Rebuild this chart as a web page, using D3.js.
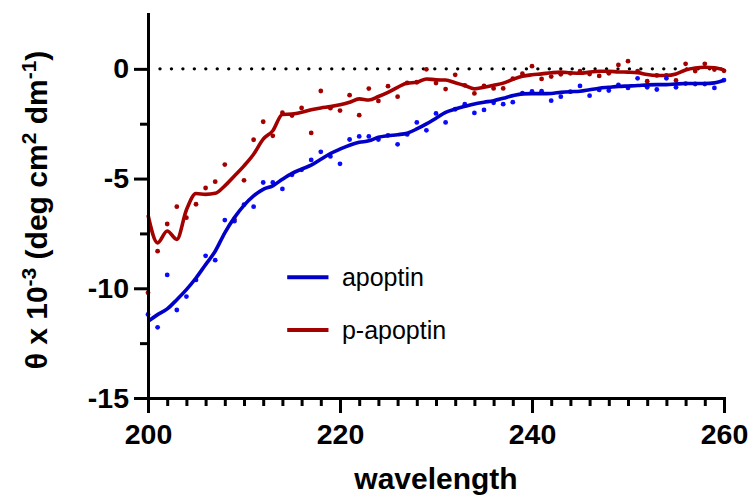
<!DOCTYPE html>
<html>
<head>
<meta charset="utf-8">
<script src="https://cdn.jsdelivr.net/npm/d3@7"></script>
<style>
  html, body { margin: 0; padding: 0; background: #fff; }
  svg { display: block; }
  .tick-lbl text { font-family: "Liberation Sans", Arial, sans-serif; font-weight: bold; font-size: 28.5px; fill: #000; }
</style>
</head>
<body>
<svg id="chart" width="751" height="498"></svg>
<script>
'use strict';

/* ── Data ────────────────────────────────────────────────── */
const WAVELENGTH = [
  200, 201, 202, 203, 204, 205, 206, 207, 208, 209,
  210, 211, 212, 213, 214, 215, 216, 217, 218, 219,
  220, 221, 222, 223, 224, 225, 226, 227, 228, 229,
  230, 231, 232, 233, 234, 235, 236, 237, 238, 239,
  240, 241, 242, 243, 244, 245, 246, 247, 248, 249,
  250, 251, 252, 253, 254, 255, 256, 257, 258, 259, 260
];

// apoptin: measured points and smoothed curve
const APOPTIN_PTS = [
  -11.19, -11.78, -9.39, -10.99, -10.38, -9.62, -8.52, -8.72, -6.89, -6.94,
  -6.19, -6.28, -5.18, -5.18, -5.47, -4.83, -4.60, -4.15, -3.78, -3.99,
  -4.33, -3.22, -3.08, -3.08, -3.22, -3.03, -3.44, -2.99, -2.44, -2.80,
  -2.03, -2.44, -1.84, -1.61, -2.01, -1.87, -1.55, -1.61, -1.52, -1.11,
  -1.03, -1.02, -1.45, -1.27, -1.04, -0.78, -1.22, -0.96, -0.99, -0.73,
  -0.87, -0.43, -0.84, -0.94, -0.43, -0.84, -0.67, -0.69, -0.69, -0.87, -0.51
];
const APOPTIN_FIT = [
  -11.51, -11.20, -10.94, -10.52, -10.06, -9.53, -8.92, -8.31, -7.47, -6.78,
  -6.22, -5.79, -5.49, -5.33, -5.03, -4.76, -4.57, -4.39, -4.12, -3.86,
  -3.66, -3.48, -3.35, -3.28, -3.12, -3.05, -3.00, -2.93, -2.74, -2.51,
  -2.25, -1.98, -1.83, -1.71, -1.60, -1.52, -1.45, -1.34, -1.22, -1.14,
  -1.13, -1.13, -1.12, -1.07, -1.04, -1.02, -0.95, -0.88, -0.84, -0.80,
  -0.78, -0.76, -0.73, -0.72, -0.72, -0.69, -0.67, -0.67, -0.67, -0.64, -0.52
];

// p-apoptin: measured points and smoothed curve
const PAPOPTIN_PTS = [
  -10.20, -8.31, -7.07, -6.28, -6.78, -6.17, -5.43, -5.14, -4.36, -6.86,
  -5.08, -3.23, -2.41, -3.05, -2.00, -2.13, -1.78, -2.92, -1.01, -1.79,
  -1.90, -1.20, -2.11, -0.90, -1.46, -0.79, -1.27, -0.64, -0.61, -0.02,
  -0.65, -0.92, -0.27, -0.75, -1.12, -0.78, -0.89, -0.89, -0.45, -0.22,
   0.12, -0.46, -0.35, -0.25, -0.20, -0.11, -0.24, -0.32, -0.20, 0.18,
   0.35, -0.10, -0.56, -0.30, -0.30, -0.53, 0.23, -0.10, 0.23, -0.03, -0.09
];
const PAPOPTIN_FIT = [
  -6.66, -7.93, -7.39, -7.77, -6.43, -5.68, -5.72, -5.67, -5.33, -4.88,
  -4.42, -3.89, -3.20, -2.82, -2.08, -2.06, -1.98, -1.86, -1.78, -1.72,
  -1.64, -1.52, -1.37, -1.42, -1.26, -1.07, -0.84, -0.65, -0.61, -0.46,
  -0.50, -0.51, -0.63, -0.76, -0.91, -0.84, -0.75, -0.65, -0.48, -0.34,
  -0.27, -0.23, -0.18, -0.15, -0.18, -0.20, -0.15, -0.11, -0.11, -0.14,
  -0.15, -0.17, -0.26, -0.30, -0.30, -0.23, -0.05, 0.04, 0.07, 0.05, -0.05
];

const SERIES_NAMES = ['apoptin', 'p-apoptin'];

const X_TICKS  = [200, 220, 240, 260];
const X_MINOR  = [202, 204, 206, 208, 210, 212, 214, 216, 218,
                  222, 224, 226, 228, 230, 232, 234, 236, 238,
                  242, 244, 246, 248, 250, 252, 254, 256, 258];
const Y_TICKS  = [-15, -10, -5, 0];
const Y_MINOR  = [-12.5, -7.5, -2.5];

/* ── Setup ───────────────────────────────────────────────── */
const FONT = '"Liberation Sans", Arial, Helvetica, sans-serif';
const svg  = d3.select('#chart');

const x = d3.scaleLinear().domain([200, 260]).range([148, 724]);
const y = d3.scaleLinear().domain([-15, 2.5]).range([398, 14]);

const series = [
  { name: SERIES_NAMES[1], pts: PAPOPTIN_PTS, fit: PAPOPTIN_FIT, line: '#a30000', dot: '#a30000' },
  { name: SERIES_NAMES[0], pts: APOPTIN_PTS,  fit: APOPTIN_FIT,  line: '#0000c8', dot: '#0a0aff' }
];

/* ── Zero reference (dotted) ─────────────────────────────── */
svg.append('line')
  .attr('x1', x(200) + 12).attr('x2', x(260))
  .attr('y1', y(0)).attr('y2', y(0))
  .attr('stroke', '#000').attr('stroke-width', 3.4)
  .attr('stroke-linecap', 'round')
  .attr('stroke-dasharray', '0 11.45');

/* ── Series: dots + smoothed curve ───────────────────────── */
const lineGen = d3.line()
  .x((d, i) => x(WAVELENGTH[i]))
  .y(d => y(d))
  .curve(d3.curveMonotoneX);

series.forEach(s => {
  svg.append('g').selectAll('circle')
    .data(s.pts).join('circle')
    .attr('cx', (d, i) => x(WAVELENGTH[i]))
    .attr('cy', d => y(d))
    .attr('r', 2.4)
    .attr('fill', s.dot);

  svg.append('path')
    .datum(s.fit)
    .attr('d', lineGen)
    .attr('fill', 'none')
    .attr('stroke', s.line)
    .attr('stroke-width', 3.6)
    .attr('stroke-linejoin', 'round');
});

/* ── Axes ────────────────────────────────────────────────── */
function styleAxis(g) {
  g.select('.domain').attr('stroke-width', 3).attr('stroke', '#000').attr('stroke-linecap', 'square');
  g.selectAll('.tick line').attr('stroke-width', 3).attr('stroke', '#000');
  g.selectAll('.tick text').attr('font-family', null).attr('font-size', null);
}
const plainFmt = d => String(d);   // hyphen minus, as in the reference

const yAxisG = svg.append('g').attr('class', 'tick-lbl')
  .attr('transform', `translate(${x(200)},0)`)
  .call(d3.axisLeft(y).tickValues(Y_TICKS).tickFormat(plainFmt)
    .tickSize(14).tickPadding(5).tickSizeOuter(0));
styleAxis(yAxisG);

const yMinorG = svg.append('g')
  .attr('transform', `translate(${x(200)},0)`)
  .call(d3.axisLeft(y).tickValues(Y_MINOR).tickSize(8).tickFormat(''));
yMinorG.select('.domain').remove();
yMinorG.selectAll('.tick line').attr('stroke-width', 3).attr('stroke', '#000');

const xAxisG = svg.append('g').attr('class', 'tick-lbl')
  .attr('transform', `translate(0,${y(-15)})`)
  .call(d3.axisBottom(x).tickValues(X_TICKS).tickFormat(plainFmt)
    .tickSize(15).tickPadding(11).tickSizeOuter(0));
styleAxis(xAxisG);

const xMinorG = svg.append('g')
  .attr('transform', `translate(0,${y(-15)})`)
  .call(d3.axisBottom(x).tickValues(X_MINOR).tickSize(8).tickFormat(''));
xMinorG.select('.domain').remove();
xMinorG.selectAll('.tick line').attr('stroke-width', 3).attr('stroke', '#000');

/* ── Axis titles ─────────────────────────────────────────── */
svg.append('text')
  .attr('x', (x(200) + x(260)) / 2).attr('y', 489)
  .attr('text-anchor', 'middle')
  .attr('font-family', FONT).attr('font-weight', 'bold').attr('font-size', 30)
  .text('wavelength');

const yTitle = svg.append('text')
  .attr('transform', `translate(47,${(y(-15) + y(2.5)) / 2 + 4}) rotate(-90)`)
  .attr('text-anchor', 'middle')
  .attr('font-family', FONT).attr('font-weight', 'bold').attr('font-size', 30);
yTitle.append('tspan').text('θ x 10');
yTitle.append('tspan').attr('baseline-shift', 'super').attr('font-size', 21).text('-3');
yTitle.append('tspan').text(' (deg cm');
yTitle.append('tspan').attr('baseline-shift', 'super').attr('font-size', 21).text('2');
yTitle.append('tspan').text(' dm');
yTitle.append('tspan').attr('baseline-shift', 'super').attr('font-size', 21).text('-1');
yTitle.append('tspan').text(')');

/* ── Legend ──────────────────────────────────────────────── */
const legend = [
  { name: SERIES_NAMES[0], color: '#0000c8', v: -9.5 },
  { name: SERIES_NAMES[1], color: '#a30000', v: -11.9 }
];
legend.forEach(l => {
  svg.append('line')
    .attr('x1', x(214.5)).attr('x2', x(218.8))
    .attr('y1', y(l.v)).attr('y2', y(l.v))
    .attr('stroke', l.color).attr('stroke-width', 4);
  svg.append('text')
    .attr('x', x(220.2)).attr('y', y(l.v))
    .attr('dy', '0.35em')
    .attr('font-family', FONT).attr('font-size', 25).attr('fill', '#000')
    .text(l.name);
});
</script>
</body>
</html>
